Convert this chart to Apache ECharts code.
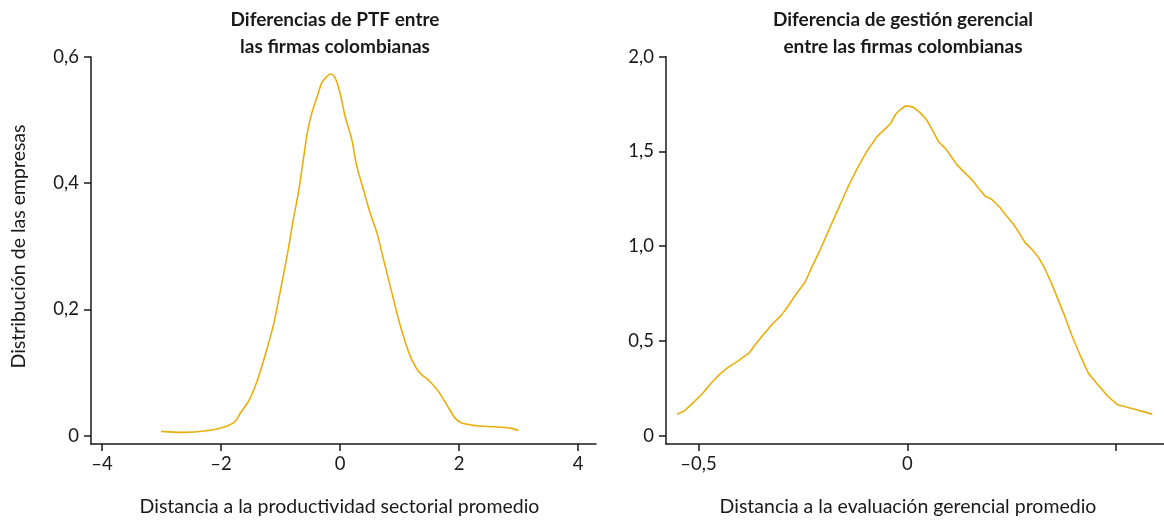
<!DOCTYPE html>
<html><head><meta charset="utf-8">
<script src="https://cdn.jsdelivr.net/npm/echarts@6/dist/echarts.min.js"></script>
<style>html,body{margin:0;padding:0;background:#fff}#c{width:1164px;height:522px}</style>
</head><body><div id="c"></div>
<script>
// Left panel: PTF differences
const ptfX = [-3.01,-2.63,-2.24,-1.96,-1.765,-1.68,-1.54,-1.40,-1.26,-1.12,-1.04,-0.953,-0.869,-0.785,-0.70,-0.617,-0.55,-0.476,-0.392,-0.308,-0.224,-0.156,-0.084,0,0.084,0.197,0.281,0.392,0.504,0.617,0.728,0.869,0.98,1.092,1.205,1.345,1.484,1.652,1.793,1.933,2.045,2.297,2.576,2.857,2.997];
const ptfY = [0.0066,0.005,0.0076,0.013,0.022,0.035,0.054,0.085,0.127,0.175,0.212,0.254,0.296,0.343,0.385,0.438,0.480,0.511,0.535,0.559,0.569,0.573,0.567,0.543,0.506,0.469,0.427,0.390,0.353,0.322,0.280,0.227,0.185,0.149,0.120,0.0986,0.088,0.070,0.0486,0.0276,0.0197,0.0155,0.0139,0.0118,0.0082];
// Right panel: management differences
const gesX = [-0.552,-0.534,-0.514,-0.490,-0.470,-0.450,-0.430,-0.406,-0.378,-0.362,-0.346,-0.322,-0.302,-0.286,-0.271,-0.244,-0.227,-0.207,-0.187,-0.171,-0.155,-0.139,-0.121,-0.099,-0.073,-0.055,-0.041,-0.027,-0.015,-0.003,0.014,0.030,0.046,0.062,0.074,0.090,0.102,0.118,0.134,0.154,0.170,0.186,0.202,0.222,0.238,0.254,0.270,0.282,0.298,0.314,0.330,0.346,0.362,0.378,0.394,0.414,0.434,0.457,0.481,0.504,0.545,0.587];
const gesY = [0.114,0.131,0.172,0.224,0.277,0.324,0.359,0.394,0.439,0.487,0.530,0.592,0.635,0.682,0.732,0.814,0.898,0.989,1.090,1.169,1.248,1.327,1.405,1.493,1.577,1.615,1.645,1.699,1.724,1.741,1.734,1.706,1.668,1.606,1.554,1.519,1.484,1.432,1.396,1.353,1.309,1.265,1.248,1.204,1.160,1.117,1.064,1.020,0.985,0.942,0.880,0.802,0.714,0.627,0.530,0.425,0.329,0.268,0.207,0.163,0.140,0.114];

const leftXTicks = [-4,-2,0,2,4];
const leftYTicks = [0,0.2,0.4,0.6];
const rightXTicks = [-0.5,0,0.5];
const rightXLabels = [-0.5,0];
const rightYTicks = [0,0.5,1.0,1.5,2.0];

const titles = ['Diferencias de PTF entre\nlas firmas colombianas','Diferencia de gestión gerencial\nentre las firmas colombianas'];
const xNames = ['Distancia a la productividad sectorial promedio','Distancia a la evaluación gerencial promedio'];
const yName = 'Distribución de las empresas';

const FONT = 'Lato';
const INK = '#1a1a1a';
const COLOR = '#EAAE0A';
const LBL = 18.5;
const NAME = 19.5;

function fmt(dec){
  return function(v){
    let s = Math.abs(v) < 1e-9 ? '0' : v.toFixed(dec);
    return s.replace('.', ',').replace('-', '\u2013');
  };
}
function fmtY(v){ return Math.abs(v) < 1e-9 ? '0' : v.toFixed(1).replace('.', ','); }

const axisBase = {
  axisLine:{show:true,onZero:false,lineStyle:{color:INK,width:1.5}},
  axisTick:{show:true,length:7,lineStyle:{color:INK,width:1.5}},
  splitLine:{show:false}
};

const chart = echarts.init(document.getElementById('c'), null, {renderer:'canvas'});
chart.setOption({
  animation:false,
  textStyle:{fontFamily:FONT},
  title:[
    {text:titles[0],left:330,top:1,textAlign:'center',textStyle:{fontFamily:FONT,fontWeight:'bold',fontSize:19,lineHeight:27,color:INK}},
    {text:titles[1],left:898,top:1,textAlign:'center',textStyle:{fontFamily:FONT,fontWeight:'bold',fontSize:19,lineHeight:27,color:INK}}
  ],
  grid:[
    {left:91,top:57,width:505,height:389},
    {left:666,top:56.7,width:498,height:389.3}
  ],
  xAxis:[
    Object.assign({}, axisBase, {type:'value',gridIndex:0,min:-4.185,max:4.30,
      axisTick:Object.assign({},axisBase.axisTick,{customValues:leftXTicks}),
      axisLabel:{customValues:leftXTicks,formatter:fmt(0),fontFamily:FONT,fontSize:LBL,color:INK,margin:11},
      name:xNames[0],nameLocation:'middle',nameGap:53,
      nameTextStyle:{fontFamily:FONT,fontSize:NAME,color:INK,padding:[0,8,0,0]}}),
    Object.assign({}, axisBase, {type:'value',gridIndex:1,min:-0.578,max:0.615,
      axisTick:Object.assign({},axisBase.axisTick,{customValues:rightXTicks}),
      axisLabel:{customValues:rightXLabels,formatter:fmt(1),fontFamily:FONT,fontSize:LBL,color:INK,margin:11},
      name:xNames[1],nameLocation:'middle',nameGap:53,
      nameTextStyle:{fontFamily:FONT,fontSize:NAME,color:INK,padding:[0,14,0,0]}})
  ],
  yAxis:[
    Object.assign({}, axisBase, {type:'value',gridIndex:0,min:-0.0134,max:0.6,
      axisTick:Object.assign({},axisBase.axisTick,{customValues:leftYTicks}),
      axisLabel:{customValues:leftYTicks,formatter:fmtY,fontFamily:FONT,fontSize:LBL,color:INK,margin:12},
      name:yName,nameLocation:'middle',nameGap:62,nameRotate:90,
      nameTextStyle:{fontFamily:FONT,fontSize:NAME,color:INK,padding:[0,0,0,8]}}),
    Object.assign({}, axisBase, {type:'value',gridIndex:1,min:-0.0436,max:2.0,
      axisTick:Object.assign({},axisBase.axisTick,{customValues:rightYTicks}),
      axisLabel:{customValues:rightYTicks,formatter:fmtY,fontFamily:FONT,fontSize:LBL,color:INK,margin:12}})
  ],
  series:[
    {type:'line',xAxisIndex:0,yAxisIndex:0,showSymbol:false,smooth:0.3,
      lineStyle:{color:COLOR,width:1.6},data:ptfX.map((x,i)=>[x,ptfY[i]])},
    {type:'line',xAxisIndex:1,yAxisIndex:1,showSymbol:false,smooth:false,
      lineStyle:{color:COLOR,width:1.6},data:gesX.map((x,i)=>[x,gesY[i]])}
  ]
});
</script></body></html>
